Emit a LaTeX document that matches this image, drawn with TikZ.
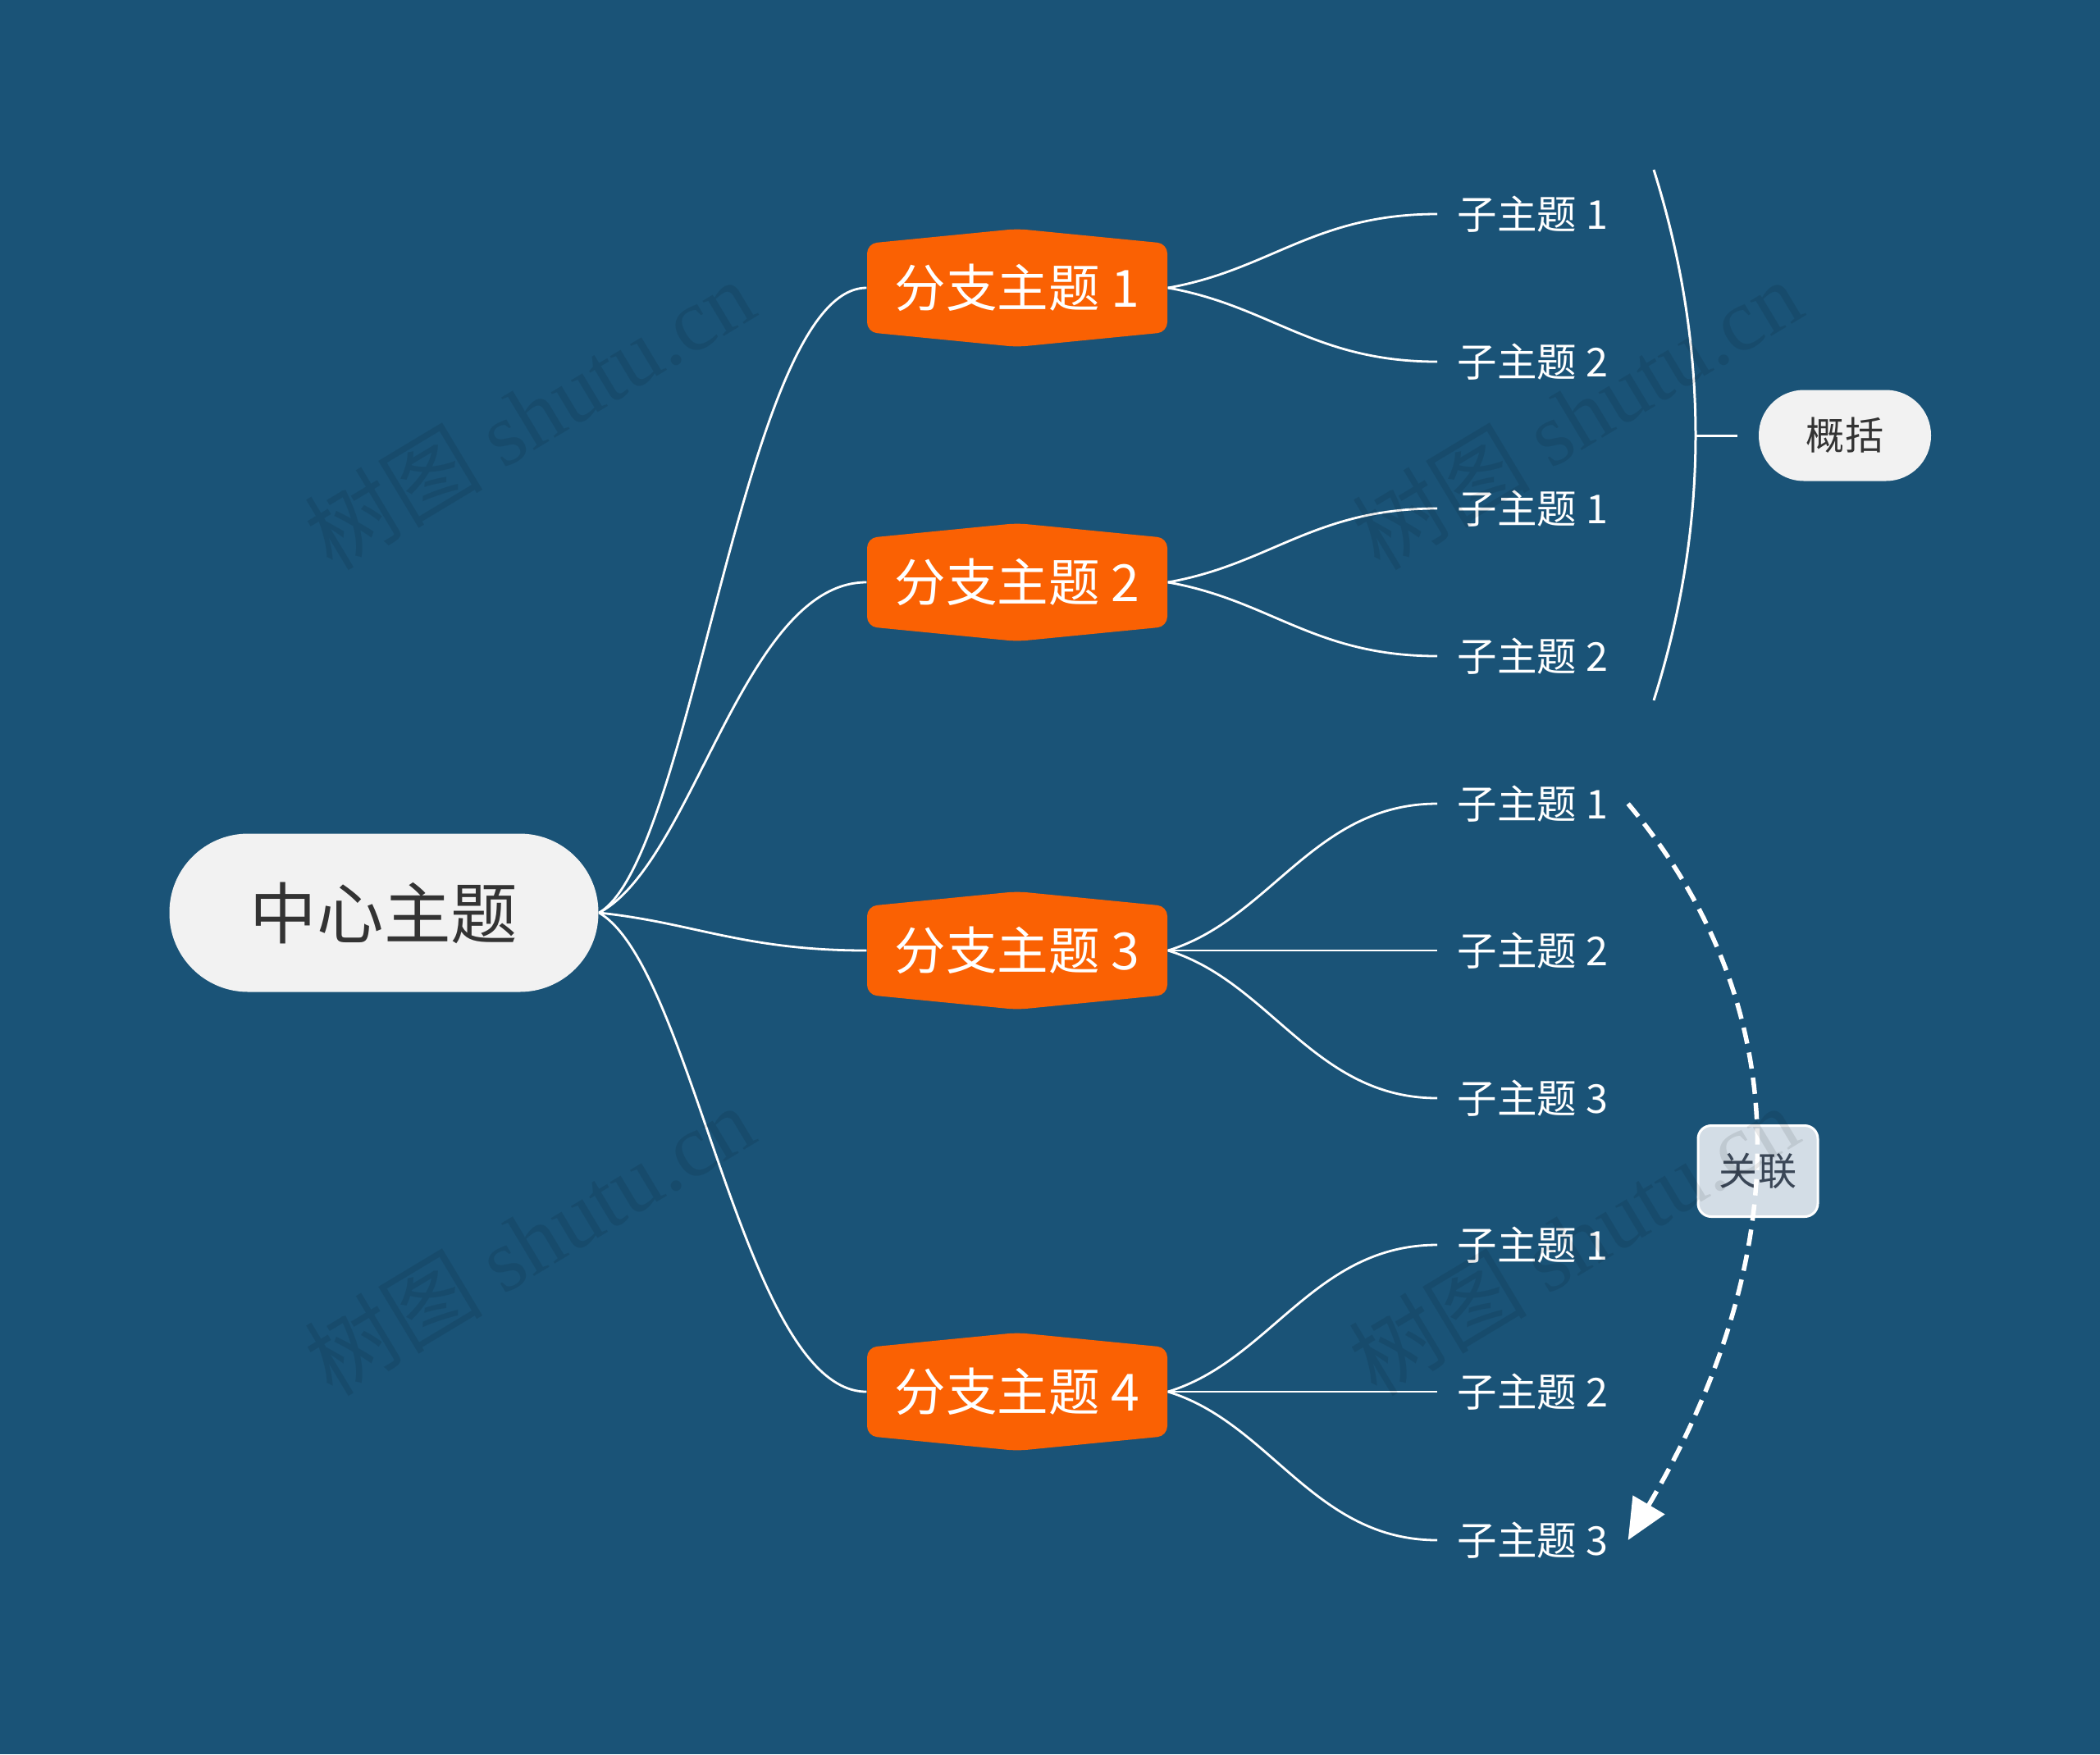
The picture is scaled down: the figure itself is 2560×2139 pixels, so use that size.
\documentclass[tikz,border=0pt]{standalone}
\usepackage{fontspec}
\setmainfont{Noto Sans CJK SC}
\newfontfamily\wmserif{Liberation Serif}
\usetikzlibrary{arrows.meta,calc}
\definecolor{bgblue}{HTML}{1A5377}
\definecolor{brorange}{HTML}{FA6103}
\definecolor{lightfill}{HTML}{F2F2F2}
\definecolor{darktext}{HTML}{333333}
\definecolor{relfill}{HTML}{D3DDE6}
\definecolor{reltext}{HTML}{3A4656}
\begin{document}
\begin{tikzpicture}[x=0.1mm,y=-0.1mm,
  link/.style={draw=white, line width=0.28mm},
  centernode/.style={fill=lightfill, text=darktext, rounded corners=9.6mm, minimum width=52.3mm, minimum height=19.3mm, inner sep=0pt, font=\fontsize{23.2pt}{28pt}\selectfont},
  branchnode/.style={text=white, minimum width=36.6mm, minimum height=11mm, inner sep=0pt, font=\fontsize{17.8pt}{21pt}\selectfont},
  subnode/.style={text=white, anchor=west, inner xsep=2.4mm, inner ysep=0pt, font=\fontsize{13.8pt}{17pt}\selectfont},
  summarynode/.style={fill=lightfill, text=darktext, rounded corners=5.5mm, minimum width=21mm, minimum height=11.1mm, inner sep=0pt, font=\fontsize{13.4pt}{16pt}\selectfont},
  relnode/.style={fill=relfill, draw=white, line width=0.3mm, text=reltext, rounded corners=1.6mm, minimum width=14.6mm, minimum height=11.1mm, inner sep=0pt, font=\fontsize{13.4pt}{16pt}\selectfont},
  relarrow/.style={draw=white, line width=0.55mm, dash pattern=on 2mm off 1.1mm, -{Triangle[length=5mm,width=4.4mm]}},
  bracketline/.style={draw=white, line width=0.3mm},
  watermark/.style={rotate=31, text=black, text opacity=0.09, inner sep=0pt, font=\fontsize{31pt}{36pt}\selectfont},
  hexbg/.pic={\fill[brorange, rounded corners=1.2mm] (-183,-54) -- (0,-72) -- (183,-54) -- (183,54) -- (0,72) -- (-183,54) -- cycle;}
]
\fill[bgblue] (0,0) rectangle (2560,2139);
\useasboundingbox (0,0) rectangle (2560,2139);

% central topic
\node[centernode] (c) at (468,1113) {中心主题};

% branch backgrounds and nodes
\pic at (1240,351) {hexbg};
\pic at (1240,710) {hexbg};
\pic at (1240,1159) {hexbg};
\pic at (1240,1697) {hexbg};
\node[branchnode] (b1) at (1240,351) {分支主题 1};
\node[branchnode] (b2) at (1240,710) {分支主题 2};
\node[branchnode] (b3) at (1240,1159) {分支主题 3};
\node[branchnode] (b4) at (1240,1697) {分支主题 4};

% subtopics
\node[subnode] (s1) at (1752,261) {子主题 1};
\node[subnode] (s2) at (1752,441) {子主题 2};
\node[subnode] (s3) at (1752,620) {子主题 1};
\node[subnode] (s4) at (1752,800) {子主题 2};
\node[subnode] (s5) at (1752,980) {子主题 1};
\node[subnode] (s6) at (1752,1159) {子主题 2};
\node[subnode] (s7) at (1752,1339) {子主题 3};
\node[subnode] (s8) at (1752,1518) {子主题 1};
\node[subnode] (s9) at (1752,1697) {子主题 2};
\node[subnode] (s10) at (1752,1878) {子主题 3};

% center to branches
\draw[link] (c.east) .. controls +(115,-66) and +(-150,0) .. (b1.west);
\draw[link] (c.east) .. controls +(115,-60) and +(-150,0) .. (b2.west);
\draw[link] (c.east) .. controls +(115,12) and +(-150,0) .. (b3.west);
\draw[link] (c.east) .. controls +(115,66) and +(-150,0) .. (b4.west);

% branches to subtopics
\draw[link] (b1.east) .. controls +(125,-22) and +(-150,0) .. (s1.west);
\draw[link] (b1.east) .. controls +(125,22) and +(-150,0) .. (s2.west);
\draw[link] (b2.east) .. controls +(125,-22) and +(-150,0) .. (s3.west);
\draw[link] (b2.east) .. controls +(125,22) and +(-150,0) .. (s4.west);
\draw[link] (b3.east) .. controls +(125,-38) and +(-150,0) .. (s5.west);
\draw[link] (b3.east) -- (s6.west);
\draw[link] (b3.east) .. controls +(125,38) and +(-150,0) .. (s7.west);
\draw[link] (b4.east) .. controls +(125,-38) and +(-150,0) .. (s8.west);
\draw[link] (b4.east) -- (s9.west);
\draw[link] (b4.east) .. controls +(125,38) and +(-150,0) .. (s10.west);

% summary bracket
\coordinate (brtop) at (2016,207);
\coordinate (brbot) at (2016,854);
\coordinate (brmid) at (2067,531);
\coordinate (tickend) at (2118,531);
\draw[bracketline] (brtop) .. controls (2084,423) and (2084,639) .. (brbot);
\draw[bracketline] (brmid) -- (tickend);
\node[summarynode] (sum) at (2249,531) {概括};

% relationship
\node[relnode] (rel) at (2143,1428) {关联};
\draw[relarrow] (s5.east) .. controls +(241,289) and +(170,-289) .. (s10.east);

% watermarks
\node[watermark] (wm1) at (645,505) {树图 {\wmserif shutu.cn}};
\node[watermark] (wm2) at (645,1512) {树图 {\wmserif shutu.cn}};
\node[watermark] (wm3) at (1922,505) {树图 {\wmserif shutu.cn}};
\node[watermark] (wm4) at (1918,1512) {树图 {\wmserif shutu.cn}};
\end{tikzpicture}
\end{document}
